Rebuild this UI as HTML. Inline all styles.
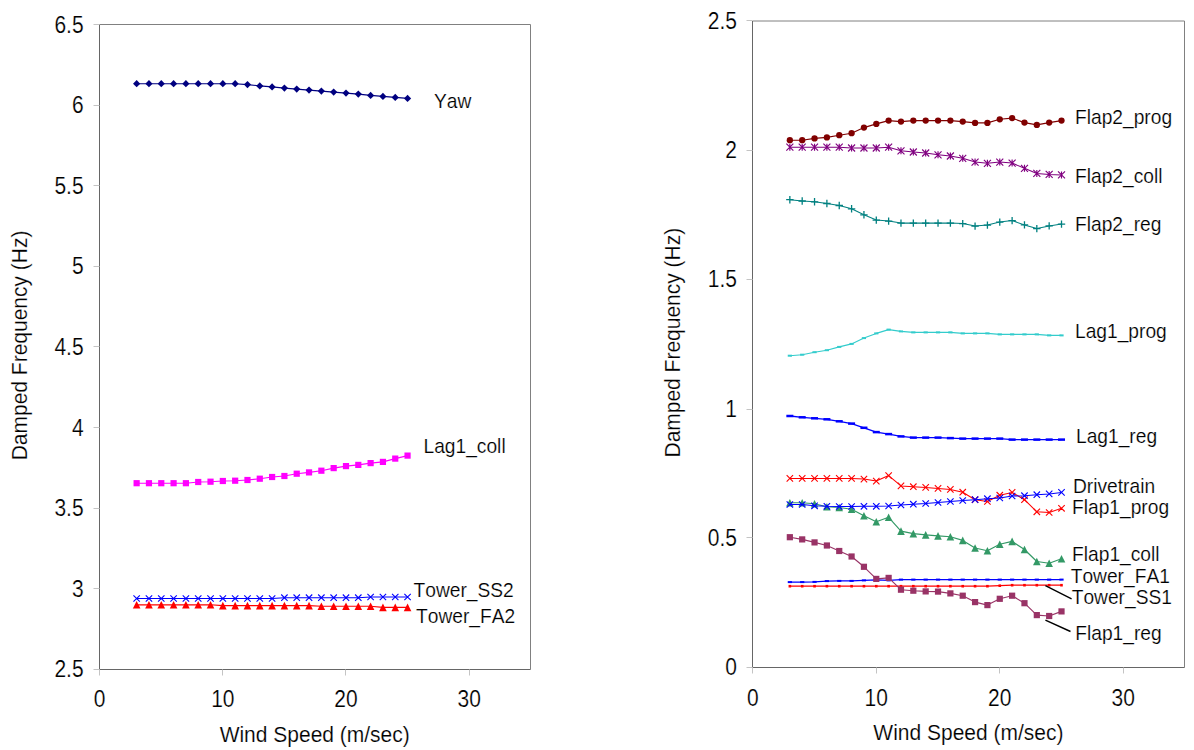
<!DOCTYPE html>
<html lang="en"><head><meta charset="utf-8"><title>Damped Frequency vs Wind Speed</title>
<style>html,body{margin:0;padding:0;background:#fff}svg{display:block}text{fill:#000;font-kerning:none;stroke:#fff;stroke-width:.18px}</style></head><body>
<svg width="1194" height="750" viewBox="0 0 1194 750">
<rect width="1194" height="750" fill="#fff"/>
<path d="M99.5 24.5H530.5V669.5" fill="none" stroke="#808080" stroke-width="1"/>
<path d="M99.5 24.5V669.5H530.5" fill="none" stroke="#666" stroke-width="1"/>
<path d="M99.5 669.5v6" stroke="#c4c4c4" stroke-width="1"/>
<text transform="translate(99.7 707.4) scale(1 1.11)" font-size="21" text-anchor="middle" font-family="Liberation Sans, Arial, sans-serif">0</text>
<path d="M222.5 669.5v6" stroke="#c4c4c4" stroke-width="1"/>
<text transform="translate(222.84 707.4) scale(1 1.11)" font-size="21" text-anchor="middle" font-family="Liberation Sans, Arial, sans-serif">10</text>
<path d="M345.5 669.5v6" stroke="#c4c4c4" stroke-width="1"/>
<text transform="translate(345.99 707.4) scale(1 1.11)" font-size="21" text-anchor="middle" font-family="Liberation Sans, Arial, sans-serif">20</text>
<path d="M469.5 669.5v6" stroke="#c4c4c4" stroke-width="1"/>
<text transform="translate(469.13 707.4) scale(1 1.11)" font-size="21" text-anchor="middle" font-family="Liberation Sans, Arial, sans-serif">30</text>
<path d="M99.5 24.5h-6" stroke="#c4c4c4" stroke-width="1"/>
<text transform="translate(83.6 32.6) scale(1 1.11)" font-size="21" text-anchor="end" font-family="Liberation Sans, Arial, sans-serif">6.5</text>
<path d="M99.5 105.5h-6" stroke="#c4c4c4" stroke-width="1"/>
<text transform="translate(83.6 113.19) scale(1 1.11)" font-size="21" text-anchor="end" font-family="Liberation Sans, Arial, sans-serif">6</text>
<path d="M99.5 185.5h-6" stroke="#c4c4c4" stroke-width="1"/>
<text transform="translate(83.6 193.77) scale(1 1.11)" font-size="21" text-anchor="end" font-family="Liberation Sans, Arial, sans-serif">5.5</text>
<path d="M99.5 266.5h-6" stroke="#c4c4c4" stroke-width="1"/>
<text transform="translate(83.6 274.36) scale(1 1.11)" font-size="21" text-anchor="end" font-family="Liberation Sans, Arial, sans-serif">5</text>
<path d="M99.5 346.5h-6" stroke="#c4c4c4" stroke-width="1"/>
<text transform="translate(83.6 354.95) scale(1 1.11)" font-size="21" text-anchor="end" font-family="Liberation Sans, Arial, sans-serif">4.5</text>
<path d="M99.5 427.5h-6" stroke="#c4c4c4" stroke-width="1"/>
<text transform="translate(83.6 435.54) scale(1 1.11)" font-size="21" text-anchor="end" font-family="Liberation Sans, Arial, sans-serif">4</text>
<path d="M99.5 508.5h-6" stroke="#c4c4c4" stroke-width="1"/>
<text transform="translate(83.6 516.12) scale(1 1.11)" font-size="21" text-anchor="end" font-family="Liberation Sans, Arial, sans-serif">3.5</text>
<path d="M99.5 588.5h-6" stroke="#c4c4c4" stroke-width="1"/>
<text transform="translate(83.6 596.71) scale(1 1.11)" font-size="21" text-anchor="end" font-family="Liberation Sans, Arial, sans-serif">3</text>
<path d="M99.5 669.5h-6" stroke="#c4c4c4" stroke-width="1"/>
<text transform="translate(83.6 677.3) scale(1 1.11)" font-size="21" text-anchor="end" font-family="Liberation Sans, Arial, sans-serif">2.5</text>
<text transform="translate(314.7 741.8) scale(1 1.05)" font-size="21" text-anchor="middle" font-family="Liberation Sans, Arial, sans-serif">Wind Speed (m/sec)</text>
<text transform="translate(27 345.45) rotate(-90) scale(1 1.05)" font-size="21" text-anchor="middle" font-family="Liberation Sans, Arial, sans-serif">Damped Frequency (Hz)</text>
<polyline points="136.64,83.7 148.96,83.7 161.27,83.7 173.59,83.7 185.9,83.7 198.21,83.7 210.53,83.7 222.84,83.7 235.16,83.7 247.47,84.6 259.79,85.9 272.1,86.9 284.41,88.1 296.73,89.1 309.04,90.1 321.36,91.1 333.67,92.1 345.99,93.1 358.3,94.1 370.61,95.4 382.93,96.4 395.24,97.4 407.56,98.4" fill="none" stroke="#000080" stroke-width="1.15" stroke-linejoin="round"/>
<path d="M136.64 80.1L140.24 83.7L136.64 87.3L133.04 83.7Z" fill="#000080"/>
<path d="M148.96 80.1L152.56 83.7L148.96 87.3L145.36 83.7Z" fill="#000080"/>
<path d="M161.27 80.1L164.87 83.7L161.27 87.3L157.67 83.7Z" fill="#000080"/>
<path d="M173.59 80.1L177.19 83.7L173.59 87.3L169.99 83.7Z" fill="#000080"/>
<path d="M185.9 80.1L189.5 83.7L185.9 87.3L182.3 83.7Z" fill="#000080"/>
<path d="M198.21 80.1L201.81 83.7L198.21 87.3L194.61 83.7Z" fill="#000080"/>
<path d="M210.53 80.1L214.13 83.7L210.53 87.3L206.93 83.7Z" fill="#000080"/>
<path d="M222.84 80.1L226.44 83.7L222.84 87.3L219.24 83.7Z" fill="#000080"/>
<path d="M235.16 80.1L238.76 83.7L235.16 87.3L231.56 83.7Z" fill="#000080"/>
<path d="M247.47 81L251.07 84.6L247.47 88.2L243.87 84.6Z" fill="#000080"/>
<path d="M259.79 82.3L263.39 85.9L259.79 89.5L256.19 85.9Z" fill="#000080"/>
<path d="M272.1 83.3L275.7 86.9L272.1 90.5L268.5 86.9Z" fill="#000080"/>
<path d="M284.41 84.5L288.01 88.1L284.41 91.7L280.81 88.1Z" fill="#000080"/>
<path d="M296.73 85.5L300.33 89.1L296.73 92.7L293.13 89.1Z" fill="#000080"/>
<path d="M309.04 86.5L312.64 90.1L309.04 93.7L305.44 90.1Z" fill="#000080"/>
<path d="M321.36 87.5L324.96 91.1L321.36 94.7L317.76 91.1Z" fill="#000080"/>
<path d="M333.67 88.5L337.27 92.1L333.67 95.7L330.07 92.1Z" fill="#000080"/>
<path d="M345.99 89.5L349.59 93.1L345.99 96.7L342.39 93.1Z" fill="#000080"/>
<path d="M358.3 90.5L361.9 94.1L358.3 97.7L354.7 94.1Z" fill="#000080"/>
<path d="M370.61 91.8L374.21 95.4L370.61 99L367.01 95.4Z" fill="#000080"/>
<path d="M382.93 92.8L386.53 96.4L382.93 100L379.33 96.4Z" fill="#000080"/>
<path d="M395.24 93.8L398.84 97.4L395.24 101L391.64 97.4Z" fill="#000080"/>
<path d="M407.56 94.8L411.16 98.4L407.56 102L403.96 98.4Z" fill="#000080"/>
<polyline points="136.64,483.2 148.96,483.2 161.27,483.2 173.59,483.2 185.9,483.2 198.21,482 210.53,481.7 222.84,481 235.16,480.7 247.47,480 259.79,478.7 272.1,477 284.41,476 296.73,473.7 309.04,472.4 321.36,470.7 333.67,468.1 345.99,466.1 358.3,464.9 370.61,463.1 382.93,461.9 395.24,458.6 407.56,455.6" fill="none" stroke="#ff00ff" stroke-width="1.15" stroke-linejoin="round"/>
<rect x="133.54" y="480.1" width="6.2" height="6.2" fill="#ff00ff"/>
<rect x="145.86" y="480.1" width="6.2" height="6.2" fill="#ff00ff"/>
<rect x="158.17" y="480.1" width="6.2" height="6.2" fill="#ff00ff"/>
<rect x="170.49" y="480.1" width="6.2" height="6.2" fill="#ff00ff"/>
<rect x="182.8" y="480.1" width="6.2" height="6.2" fill="#ff00ff"/>
<rect x="195.11" y="478.9" width="6.2" height="6.2" fill="#ff00ff"/>
<rect x="207.43" y="478.6" width="6.2" height="6.2" fill="#ff00ff"/>
<rect x="219.74" y="477.9" width="6.2" height="6.2" fill="#ff00ff"/>
<rect x="232.06" y="477.6" width="6.2" height="6.2" fill="#ff00ff"/>
<rect x="244.37" y="476.9" width="6.2" height="6.2" fill="#ff00ff"/>
<rect x="256.69" y="475.6" width="6.2" height="6.2" fill="#ff00ff"/>
<rect x="269" y="473.9" width="6.2" height="6.2" fill="#ff00ff"/>
<rect x="281.31" y="472.9" width="6.2" height="6.2" fill="#ff00ff"/>
<rect x="293.63" y="470.6" width="6.2" height="6.2" fill="#ff00ff"/>
<rect x="305.94" y="469.3" width="6.2" height="6.2" fill="#ff00ff"/>
<rect x="318.26" y="467.6" width="6.2" height="6.2" fill="#ff00ff"/>
<rect x="330.57" y="465" width="6.2" height="6.2" fill="#ff00ff"/>
<rect x="342.89" y="463" width="6.2" height="6.2" fill="#ff00ff"/>
<rect x="355.2" y="461.8" width="6.2" height="6.2" fill="#ff00ff"/>
<rect x="367.51" y="460" width="6.2" height="6.2" fill="#ff00ff"/>
<rect x="379.83" y="458.8" width="6.2" height="6.2" fill="#ff00ff"/>
<rect x="392.14" y="455.5" width="6.2" height="6.2" fill="#ff00ff"/>
<rect x="404.46" y="452.5" width="6.2" height="6.2" fill="#ff00ff"/>
<polyline points="136.64,604.8 148.96,604.8 161.27,604.8 173.59,604.8 185.9,604.8 198.21,604.8 210.53,604.8 222.84,605.6 235.16,605.6 247.47,605.6 259.79,605.6 272.1,605.6 284.41,605.6 296.73,605.6 309.04,605.6 321.36,606.2 333.67,606.2 345.99,606.2 358.3,606.2 370.61,606.2 382.93,607.4 395.24,607.4 407.56,607.4" fill="none" stroke="#ff0000" stroke-width="1.15" stroke-linejoin="round"/>
<path d="M136.64 601L140.44 608.6L132.84 608.6Z" fill="#ff0000"/>
<path d="M148.96 601L152.76 608.6L145.16 608.6Z" fill="#ff0000"/>
<path d="M161.27 601L165.07 608.6L157.47 608.6Z" fill="#ff0000"/>
<path d="M173.59 601L177.39 608.6L169.79 608.6Z" fill="#ff0000"/>
<path d="M185.9 601L189.7 608.6L182.1 608.6Z" fill="#ff0000"/>
<path d="M198.21 601L202.01 608.6L194.41 608.6Z" fill="#ff0000"/>
<path d="M210.53 601L214.33 608.6L206.73 608.6Z" fill="#ff0000"/>
<path d="M222.84 601.8L226.64 609.4L219.04 609.4Z" fill="#ff0000"/>
<path d="M235.16 601.8L238.96 609.4L231.36 609.4Z" fill="#ff0000"/>
<path d="M247.47 601.8L251.27 609.4L243.67 609.4Z" fill="#ff0000"/>
<path d="M259.79 601.8L263.59 609.4L255.99 609.4Z" fill="#ff0000"/>
<path d="M272.1 601.8L275.9 609.4L268.3 609.4Z" fill="#ff0000"/>
<path d="M284.41 601.8L288.21 609.4L280.61 609.4Z" fill="#ff0000"/>
<path d="M296.73 601.8L300.53 609.4L292.93 609.4Z" fill="#ff0000"/>
<path d="M309.04 601.8L312.84 609.4L305.24 609.4Z" fill="#ff0000"/>
<path d="M321.36 602.4L325.16 610L317.56 610Z" fill="#ff0000"/>
<path d="M333.67 602.4L337.47 610L329.87 610Z" fill="#ff0000"/>
<path d="M345.99 602.4L349.79 610L342.19 610Z" fill="#ff0000"/>
<path d="M358.3 602.4L362.1 610L354.5 610Z" fill="#ff0000"/>
<path d="M370.61 602.4L374.41 610L366.81 610Z" fill="#ff0000"/>
<path d="M382.93 603.6L386.73 611.2L379.13 611.2Z" fill="#ff0000"/>
<path d="M395.24 603.6L399.04 611.2L391.44 611.2Z" fill="#ff0000"/>
<path d="M407.56 603.6L411.36 611.2L403.76 611.2Z" fill="#ff0000"/>
<polyline points="136.64,598.5 148.96,598.5 161.27,598.5 173.59,598.5 185.9,598.5 198.21,598.5 210.53,598.5 222.84,598.5 235.16,598.5 247.47,598.5 259.79,598.5 272.1,598.5 284.41,597.7 296.73,597.7 309.04,597.7 321.36,597.7 333.67,597.7 345.99,597.7 358.3,597.7 370.61,597 382.93,597 395.24,597 407.56,597" fill="none" stroke="#0000ff" stroke-width="1.15" stroke-linejoin="round"/>
<path d="M133.44 595.3L139.84 601.7M133.44 601.7L139.84 595.3" stroke="#0000ff" stroke-width="1.1" fill="none"/>
<path d="M145.76 595.3L152.16 601.7M145.76 601.7L152.16 595.3" stroke="#0000ff" stroke-width="1.1" fill="none"/>
<path d="M158.07 595.3L164.47 601.7M158.07 601.7L164.47 595.3" stroke="#0000ff" stroke-width="1.1" fill="none"/>
<path d="M170.39 595.3L176.79 601.7M170.39 601.7L176.79 595.3" stroke="#0000ff" stroke-width="1.1" fill="none"/>
<path d="M182.7 595.3L189.1 601.7M182.7 601.7L189.1 595.3" stroke="#0000ff" stroke-width="1.1" fill="none"/>
<path d="M195.01 595.3L201.41 601.7M195.01 601.7L201.41 595.3" stroke="#0000ff" stroke-width="1.1" fill="none"/>
<path d="M207.33 595.3L213.73 601.7M207.33 601.7L213.73 595.3" stroke="#0000ff" stroke-width="1.1" fill="none"/>
<path d="M219.64 595.3L226.04 601.7M219.64 601.7L226.04 595.3" stroke="#0000ff" stroke-width="1.1" fill="none"/>
<path d="M231.96 595.3L238.36 601.7M231.96 601.7L238.36 595.3" stroke="#0000ff" stroke-width="1.1" fill="none"/>
<path d="M244.27 595.3L250.67 601.7M244.27 601.7L250.67 595.3" stroke="#0000ff" stroke-width="1.1" fill="none"/>
<path d="M256.59 595.3L262.99 601.7M256.59 601.7L262.99 595.3" stroke="#0000ff" stroke-width="1.1" fill="none"/>
<path d="M268.9 595.3L275.3 601.7M268.9 601.7L275.3 595.3" stroke="#0000ff" stroke-width="1.1" fill="none"/>
<path d="M281.21 594.5L287.61 600.9M281.21 600.9L287.61 594.5" stroke="#0000ff" stroke-width="1.1" fill="none"/>
<path d="M293.53 594.5L299.93 600.9M293.53 600.9L299.93 594.5" stroke="#0000ff" stroke-width="1.1" fill="none"/>
<path d="M305.84 594.5L312.24 600.9M305.84 600.9L312.24 594.5" stroke="#0000ff" stroke-width="1.1" fill="none"/>
<path d="M318.16 594.5L324.56 600.9M318.16 600.9L324.56 594.5" stroke="#0000ff" stroke-width="1.1" fill="none"/>
<path d="M330.47 594.5L336.87 600.9M330.47 600.9L336.87 594.5" stroke="#0000ff" stroke-width="1.1" fill="none"/>
<path d="M342.79 594.5L349.19 600.9M342.79 600.9L349.19 594.5" stroke="#0000ff" stroke-width="1.1" fill="none"/>
<path d="M355.1 594.5L361.5 600.9M355.1 600.9L361.5 594.5" stroke="#0000ff" stroke-width="1.1" fill="none"/>
<path d="M367.41 593.8L373.81 600.2M367.41 600.2L373.81 593.8" stroke="#0000ff" stroke-width="1.1" fill="none"/>
<path d="M379.73 593.8L386.13 600.2M379.73 600.2L386.13 593.8" stroke="#0000ff" stroke-width="1.1" fill="none"/>
<path d="M392.04 593.8L398.44 600.2M392.04 600.2L398.44 593.8" stroke="#0000ff" stroke-width="1.1" fill="none"/>
<path d="M404.36 593.8L410.76 600.2M404.36 600.2L410.76 593.8" stroke="#0000ff" stroke-width="1.1" fill="none"/>
<text transform="translate(434 108) scale(1 1.05)" font-size="19.2" font-family="Liberation Sans, Arial, sans-serif">Yaw</text>
<text transform="translate(423.5 453) scale(1 1.05)" font-size="19.2" font-family="Liberation Sans, Arial, sans-serif">Lag1_coll</text>
<text transform="translate(413.5 597) scale(1 1.05)" font-size="19.2" font-family="Liberation Sans, Arial, sans-serif">Tower_SS2</text>
<text transform="translate(416 623.2) scale(1 1.05)" font-size="19.2" font-family="Liberation Sans, Arial, sans-serif">Tower_FA2</text>
<path d="M752.5 21H1184.5V667.5" fill="none" stroke="#808080" stroke-width="1"/>
<path d="M752.5 21V667.5H1184.5" fill="none" stroke="#666" stroke-width="1"/>
<path d="M752.5 667.5v6" stroke="#c4c4c4" stroke-width="1"/>
<text transform="translate(752.8 705.5) scale(1 1.11)" font-size="21" text-anchor="middle" font-family="Liberation Sans, Arial, sans-serif">0</text>
<path d="M876.5 667.5v6" stroke="#c4c4c4" stroke-width="1"/>
<text transform="translate(876.29 705.5) scale(1 1.11)" font-size="21" text-anchor="middle" font-family="Liberation Sans, Arial, sans-serif">10</text>
<path d="M999.5 667.5v6" stroke="#c4c4c4" stroke-width="1"/>
<text transform="translate(999.77 705.5) scale(1 1.11)" font-size="21" text-anchor="middle" font-family="Liberation Sans, Arial, sans-serif">20</text>
<path d="M1123.5 667.5v6" stroke="#c4c4c4" stroke-width="1"/>
<text transform="translate(1123.26 705.5) scale(1 1.11)" font-size="21" text-anchor="middle" font-family="Liberation Sans, Arial, sans-serif">30</text>
<path d="M752.5 20.5h-6" stroke="#c4c4c4" stroke-width="1"/>
<text transform="translate(737 28.9) scale(1 1.11)" font-size="21" text-anchor="end" font-family="Liberation Sans, Arial, sans-serif">2.5</text>
<path d="M752.5 150.5h-6" stroke="#c4c4c4" stroke-width="1"/>
<text transform="translate(737 158.4) scale(1 1.11)" font-size="21" text-anchor="end" font-family="Liberation Sans, Arial, sans-serif">2</text>
<path d="M752.5 279.5h-6" stroke="#c4c4c4" stroke-width="1"/>
<text transform="translate(737 287.3) scale(1 1.11)" font-size="21" text-anchor="end" font-family="Liberation Sans, Arial, sans-serif">1.5</text>
<path d="M752.5 409.5h-6" stroke="#c4c4c4" stroke-width="1"/>
<text transform="translate(737 417.3) scale(1 1.11)" font-size="21" text-anchor="end" font-family="Liberation Sans, Arial, sans-serif">1</text>
<path d="M752.5 537.5h-6" stroke="#c4c4c4" stroke-width="1"/>
<text transform="translate(737 545.8) scale(1 1.11)" font-size="21" text-anchor="end" font-family="Liberation Sans, Arial, sans-serif">0.5</text>
<path d="M752.5 667.5h-6" stroke="#c4c4c4" stroke-width="1"/>
<text transform="translate(737 675.4) scale(1 1.11)" font-size="21" text-anchor="end" font-family="Liberation Sans, Arial, sans-serif">0</text>
<text transform="translate(968.4 740) scale(1 1.05)" font-size="21" text-anchor="middle" font-family="Liberation Sans, Arial, sans-serif">Wind Speed (m/sec)</text>
<text transform="translate(680 342.65) rotate(-90) scale(1 1.05)" font-size="21" text-anchor="middle" font-family="Liberation Sans, Arial, sans-serif">Damped Frequency (Hz)</text>
<polyline points="789.85,140.2 802.19,140.2 814.54,138.4 826.89,137.4 839.24,135.2 851.59,133.2 863.94,127.6 876.29,123.9 888.63,120.6 900.98,121.6 913.33,120.6 925.68,120.6 938.03,120.6 950.38,120.6 962.73,121.6 975.07,122.9 987.42,122.9 999.77,119.3 1012.12,118.1 1024.47,122.6 1036.82,124.9 1049.17,122.6 1061.51,120.6" fill="none" stroke="#800000" stroke-width="1.15" stroke-linejoin="round"/>
<circle cx="789.85" cy="140.2" r="3.15" fill="#800000"/>
<circle cx="802.19" cy="140.2" r="3.15" fill="#800000"/>
<circle cx="814.54" cy="138.4" r="3.15" fill="#800000"/>
<circle cx="826.89" cy="137.4" r="3.15" fill="#800000"/>
<circle cx="839.24" cy="135.2" r="3.15" fill="#800000"/>
<circle cx="851.59" cy="133.2" r="3.15" fill="#800000"/>
<circle cx="863.94" cy="127.6" r="3.15" fill="#800000"/>
<circle cx="876.29" cy="123.9" r="3.15" fill="#800000"/>
<circle cx="888.63" cy="120.6" r="3.15" fill="#800000"/>
<circle cx="900.98" cy="121.6" r="3.15" fill="#800000"/>
<circle cx="913.33" cy="120.6" r="3.15" fill="#800000"/>
<circle cx="925.68" cy="120.6" r="3.15" fill="#800000"/>
<circle cx="938.03" cy="120.6" r="3.15" fill="#800000"/>
<circle cx="950.38" cy="120.6" r="3.15" fill="#800000"/>
<circle cx="962.73" cy="121.6" r="3.15" fill="#800000"/>
<circle cx="975.07" cy="122.9" r="3.15" fill="#800000"/>
<circle cx="987.42" cy="122.9" r="3.15" fill="#800000"/>
<circle cx="999.77" cy="119.3" r="3.15" fill="#800000"/>
<circle cx="1012.12" cy="118.1" r="3.15" fill="#800000"/>
<circle cx="1024.47" cy="122.6" r="3.15" fill="#800000"/>
<circle cx="1036.82" cy="124.9" r="3.15" fill="#800000"/>
<circle cx="1049.17" cy="122.6" r="3.15" fill="#800000"/>
<circle cx="1061.51" cy="120.6" r="3.15" fill="#800000"/>
<polyline points="789.85,147.2 802.19,147.2 814.54,147.2 826.89,147.2 839.24,147.2 851.59,148 863.94,148 876.29,148 888.63,147.2 900.98,150.8 913.33,152 925.68,153 938.03,154.8 950.38,156 962.73,158.3 975.07,162.1 987.42,163.3 999.77,162.1 1012.12,163.1 1024.47,168.3 1036.82,173.4 1049.17,174.4 1061.51,174.9" fill="none" stroke="#800080" stroke-width="1.05" stroke-linejoin="round"/>
<path d="M786.35 143.7L793.35 150.7M786.35 150.7L793.35 143.7M789.85 143.7L789.85 150.7" stroke="#800080" stroke-width="1.15" fill="none"/>
<path d="M798.69 143.7L805.69 150.7M798.69 150.7L805.69 143.7M802.19 143.7L802.19 150.7" stroke="#800080" stroke-width="1.15" fill="none"/>
<path d="M811.04 143.7L818.04 150.7M811.04 150.7L818.04 143.7M814.54 143.7L814.54 150.7" stroke="#800080" stroke-width="1.15" fill="none"/>
<path d="M823.39 143.7L830.39 150.7M823.39 150.7L830.39 143.7M826.89 143.7L826.89 150.7" stroke="#800080" stroke-width="1.15" fill="none"/>
<path d="M835.74 143.7L842.74 150.7M835.74 150.7L842.74 143.7M839.24 143.7L839.24 150.7" stroke="#800080" stroke-width="1.15" fill="none"/>
<path d="M848.09 144.5L855.09 151.5M848.09 151.5L855.09 144.5M851.59 144.5L851.59 151.5" stroke="#800080" stroke-width="1.15" fill="none"/>
<path d="M860.44 144.5L867.44 151.5M860.44 151.5L867.44 144.5M863.94 144.5L863.94 151.5" stroke="#800080" stroke-width="1.15" fill="none"/>
<path d="M872.79 144.5L879.79 151.5M872.79 151.5L879.79 144.5M876.29 144.5L876.29 151.5" stroke="#800080" stroke-width="1.15" fill="none"/>
<path d="M885.13 143.7L892.13 150.7M885.13 150.7L892.13 143.7M888.63 143.7L888.63 150.7" stroke="#800080" stroke-width="1.15" fill="none"/>
<path d="M897.48 147.3L904.48 154.3M897.48 154.3L904.48 147.3M900.98 147.3L900.98 154.3" stroke="#800080" stroke-width="1.15" fill="none"/>
<path d="M909.83 148.5L916.83 155.5M909.83 155.5L916.83 148.5M913.33 148.5L913.33 155.5" stroke="#800080" stroke-width="1.15" fill="none"/>
<path d="M922.18 149.5L929.18 156.5M922.18 156.5L929.18 149.5M925.68 149.5L925.68 156.5" stroke="#800080" stroke-width="1.15" fill="none"/>
<path d="M934.53 151.3L941.53 158.3M934.53 158.3L941.53 151.3M938.03 151.3L938.03 158.3" stroke="#800080" stroke-width="1.15" fill="none"/>
<path d="M946.88 152.5L953.88 159.5M946.88 159.5L953.88 152.5M950.38 152.5L950.38 159.5" stroke="#800080" stroke-width="1.15" fill="none"/>
<path d="M959.23 154.8L966.23 161.8M959.23 161.8L966.23 154.8M962.73 154.8L962.73 161.8" stroke="#800080" stroke-width="1.15" fill="none"/>
<path d="M971.57 158.6L978.57 165.6M971.57 165.6L978.57 158.6M975.07 158.6L975.07 165.6" stroke="#800080" stroke-width="1.15" fill="none"/>
<path d="M983.92 159.8L990.92 166.8M983.92 166.8L990.92 159.8M987.42 159.8L987.42 166.8" stroke="#800080" stroke-width="1.15" fill="none"/>
<path d="M996.27 158.6L1003.27 165.6M996.27 165.6L1003.27 158.6M999.77 158.6L999.77 165.6" stroke="#800080" stroke-width="1.15" fill="none"/>
<path d="M1008.62 159.6L1015.62 166.6M1008.62 166.6L1015.62 159.6M1012.12 159.6L1012.12 166.6" stroke="#800080" stroke-width="1.15" fill="none"/>
<path d="M1020.97 164.8L1027.97 171.8M1020.97 171.8L1027.97 164.8M1024.47 164.8L1024.47 171.8" stroke="#800080" stroke-width="1.15" fill="none"/>
<path d="M1033.32 169.9L1040.32 176.9M1033.32 176.9L1040.32 169.9M1036.82 169.9L1036.82 176.9" stroke="#800080" stroke-width="1.15" fill="none"/>
<path d="M1045.67 170.9L1052.67 177.9M1045.67 177.9L1052.67 170.9M1049.17 170.9L1049.17 177.9" stroke="#800080" stroke-width="1.15" fill="none"/>
<path d="M1058.01 171.4L1065.01 178.4M1058.01 178.4L1065.01 171.4M1061.51 171.4L1061.51 178.4" stroke="#800080" stroke-width="1.15" fill="none"/>
<polyline points="789.85,199.7 802.19,201 814.54,201.8 826.89,203.5 839.24,205.5 851.59,208.8 863.94,214.8 876.29,220.1 888.63,221.1 900.98,223.1 913.33,223.1 925.68,223.1 938.03,223.1 950.38,223.1 962.73,223.6 975.07,226.1 987.42,225.1 999.77,222.1 1012.12,220.6 1024.47,224.9 1036.82,228.6 1049.17,225.9 1061.51,224.1" fill="none" stroke="#008080" stroke-width="1.05" stroke-linejoin="round"/>
<path d="M786.15 199.7L793.55 199.7M789.85 196L789.85 203.4" stroke="#008080" stroke-width="1.3" fill="none"/>
<path d="M798.49 201L805.89 201M802.19 197.3L802.19 204.7" stroke="#008080" stroke-width="1.3" fill="none"/>
<path d="M810.84 201.8L818.24 201.8M814.54 198.1L814.54 205.5" stroke="#008080" stroke-width="1.3" fill="none"/>
<path d="M823.19 203.5L830.59 203.5M826.89 199.8L826.89 207.2" stroke="#008080" stroke-width="1.3" fill="none"/>
<path d="M835.54 205.5L842.94 205.5M839.24 201.8L839.24 209.2" stroke="#008080" stroke-width="1.3" fill="none"/>
<path d="M847.89 208.8L855.29 208.8M851.59 205.1L851.59 212.5" stroke="#008080" stroke-width="1.3" fill="none"/>
<path d="M860.24 214.8L867.64 214.8M863.94 211.1L863.94 218.5" stroke="#008080" stroke-width="1.3" fill="none"/>
<path d="M872.59 220.1L879.99 220.1M876.29 216.4L876.29 223.8" stroke="#008080" stroke-width="1.3" fill="none"/>
<path d="M884.93 221.1L892.33 221.1M888.63 217.4L888.63 224.8" stroke="#008080" stroke-width="1.3" fill="none"/>
<path d="M897.28 223.1L904.68 223.1M900.98 219.4L900.98 226.8" stroke="#008080" stroke-width="1.3" fill="none"/>
<path d="M909.63 223.1L917.03 223.1M913.33 219.4L913.33 226.8" stroke="#008080" stroke-width="1.3" fill="none"/>
<path d="M921.98 223.1L929.38 223.1M925.68 219.4L925.68 226.8" stroke="#008080" stroke-width="1.3" fill="none"/>
<path d="M934.33 223.1L941.73 223.1M938.03 219.4L938.03 226.8" stroke="#008080" stroke-width="1.3" fill="none"/>
<path d="M946.68 223.1L954.08 223.1M950.38 219.4L950.38 226.8" stroke="#008080" stroke-width="1.3" fill="none"/>
<path d="M959.03 223.6L966.43 223.6M962.73 219.9L962.73 227.3" stroke="#008080" stroke-width="1.3" fill="none"/>
<path d="M971.37 226.1L978.77 226.1M975.07 222.4L975.07 229.8" stroke="#008080" stroke-width="1.3" fill="none"/>
<path d="M983.72 225.1L991.12 225.1M987.42 221.4L987.42 228.8" stroke="#008080" stroke-width="1.3" fill="none"/>
<path d="M996.07 222.1L1003.47 222.1M999.77 218.4L999.77 225.8" stroke="#008080" stroke-width="1.3" fill="none"/>
<path d="M1008.42 220.6L1015.82 220.6M1012.12 216.9L1012.12 224.3" stroke="#008080" stroke-width="1.3" fill="none"/>
<path d="M1020.77 224.9L1028.17 224.9M1024.47 221.2L1024.47 228.6" stroke="#008080" stroke-width="1.3" fill="none"/>
<path d="M1033.12 228.6L1040.52 228.6M1036.82 224.9L1036.82 232.3" stroke="#008080" stroke-width="1.3" fill="none"/>
<path d="M1045.47 225.9L1052.87 225.9M1049.17 222.2L1049.17 229.6" stroke="#008080" stroke-width="1.3" fill="none"/>
<path d="M1057.81 224.1L1065.21 224.1M1061.51 220.4L1061.51 227.8" stroke="#008080" stroke-width="1.3" fill="none"/>
<polyline points="789.85,355.7 802.19,354.7 814.54,352.2 826.89,350.2 839.24,346.9 851.59,343.9 863.94,338.1 876.29,333.4 888.63,329.6 900.98,331.4 913.33,332.4 925.68,332.4 938.03,332.4 950.38,332.4 962.73,333.4 975.07,333.4 987.42,333.4 999.77,334.4 1012.12,334.4 1024.47,334.4 1036.82,334.4 1049.17,335.4 1061.51,335.4" fill="none" stroke="#33cccc" stroke-width="1.1" stroke-linejoin="round"/>
<rect x="787.75" y="354.7" width="4.2" height="2" fill="#33cccc"/>
<rect x="800.09" y="353.7" width="4.2" height="2" fill="#33cccc"/>
<rect x="812.44" y="351.2" width="4.2" height="2" fill="#33cccc"/>
<rect x="824.79" y="349.2" width="4.2" height="2" fill="#33cccc"/>
<rect x="837.14" y="345.9" width="4.2" height="2" fill="#33cccc"/>
<rect x="849.49" y="342.9" width="4.2" height="2" fill="#33cccc"/>
<rect x="861.84" y="337.1" width="4.2" height="2" fill="#33cccc"/>
<rect x="874.19" y="332.4" width="4.2" height="2" fill="#33cccc"/>
<rect x="886.53" y="328.6" width="4.2" height="2" fill="#33cccc"/>
<rect x="898.88" y="330.4" width="4.2" height="2" fill="#33cccc"/>
<rect x="911.23" y="331.4" width="4.2" height="2" fill="#33cccc"/>
<rect x="923.58" y="331.4" width="4.2" height="2" fill="#33cccc"/>
<rect x="935.93" y="331.4" width="4.2" height="2" fill="#33cccc"/>
<rect x="948.28" y="331.4" width="4.2" height="2" fill="#33cccc"/>
<rect x="960.63" y="332.4" width="4.2" height="2" fill="#33cccc"/>
<rect x="972.97" y="332.4" width="4.2" height="2" fill="#33cccc"/>
<rect x="985.32" y="332.4" width="4.2" height="2" fill="#33cccc"/>
<rect x="997.67" y="333.4" width="4.2" height="2" fill="#33cccc"/>
<rect x="1010.02" y="333.4" width="4.2" height="2" fill="#33cccc"/>
<rect x="1022.37" y="333.4" width="4.2" height="2" fill="#33cccc"/>
<rect x="1034.72" y="333.4" width="4.2" height="2" fill="#33cccc"/>
<rect x="1047.07" y="334.4" width="4.2" height="2" fill="#33cccc"/>
<rect x="1059.41" y="334.4" width="4.2" height="2" fill="#33cccc"/>
<polyline points="789.85,416 802.19,417.3 814.54,418.3 826.89,419.3 839.24,421.3 851.59,423.6 863.94,427.8 876.29,432.1 888.63,434.1 900.98,436.4 913.33,437.6 925.68,437.6 938.03,437.6 950.38,438.1 962.73,438.6 975.07,438.6 987.42,438.6 999.77,438.6 1012.12,439.6 1024.47,439.6 1036.82,439.6 1049.17,439.6 1061.51,439.6" fill="none" stroke="#0000ff" stroke-width="1.3" stroke-linejoin="round"/>
<rect x="786.35" y="414.75" width="7" height="2.5" fill="#0000ff"/>
<rect x="798.69" y="416.05" width="7" height="2.5" fill="#0000ff"/>
<rect x="811.04" y="417.05" width="7" height="2.5" fill="#0000ff"/>
<rect x="823.39" y="418.05" width="7" height="2.5" fill="#0000ff"/>
<rect x="835.74" y="420.05" width="7" height="2.5" fill="#0000ff"/>
<rect x="848.09" y="422.35" width="7" height="2.5" fill="#0000ff"/>
<rect x="860.44" y="426.55" width="7" height="2.5" fill="#0000ff"/>
<rect x="872.79" y="430.85" width="7" height="2.5" fill="#0000ff"/>
<rect x="885.13" y="432.85" width="7" height="2.5" fill="#0000ff"/>
<rect x="897.48" y="435.15" width="7" height="2.5" fill="#0000ff"/>
<rect x="909.83" y="436.35" width="7" height="2.5" fill="#0000ff"/>
<rect x="922.18" y="436.35" width="7" height="2.5" fill="#0000ff"/>
<rect x="934.53" y="436.35" width="7" height="2.5" fill="#0000ff"/>
<rect x="946.88" y="436.85" width="7" height="2.5" fill="#0000ff"/>
<rect x="959.23" y="437.35" width="7" height="2.5" fill="#0000ff"/>
<rect x="971.57" y="437.35" width="7" height="2.5" fill="#0000ff"/>
<rect x="983.92" y="437.35" width="7" height="2.5" fill="#0000ff"/>
<rect x="996.27" y="437.35" width="7" height="2.5" fill="#0000ff"/>
<rect x="1008.62" y="438.35" width="7" height="2.5" fill="#0000ff"/>
<rect x="1020.97" y="438.35" width="7" height="2.5" fill="#0000ff"/>
<rect x="1033.32" y="438.35" width="7" height="2.5" fill="#0000ff"/>
<rect x="1045.67" y="438.35" width="7" height="2.5" fill="#0000ff"/>
<rect x="1058.01" y="438.35" width="7" height="2.5" fill="#0000ff"/>
<polyline points="789.85,502.7 802.19,502.7 814.54,503.7 826.89,506.8 839.24,507.5 851.59,509.3 863.94,515.8 876.29,521.8 888.63,517.3 900.98,531.1 913.33,533.6 925.68,534.9 938.03,535.9 950.38,536.7 962.73,540.4 975.07,548 987.42,550.7 999.77,544.2 1012.12,541.4 1024.47,549.5 1036.82,561.5 1049.17,563.3 1061.51,558.8" fill="none" stroke="#339966" stroke-width="1.15" stroke-linejoin="round"/>
<path d="M789.85 498.9L793.65 506.5L786.05 506.5Z" fill="#339966"/>
<path d="M802.19 498.9L805.99 506.5L798.39 506.5Z" fill="#339966"/>
<path d="M814.54 499.9L818.34 507.5L810.74 507.5Z" fill="#339966"/>
<path d="M826.89 503L830.69 510.6L823.09 510.6Z" fill="#339966"/>
<path d="M839.24 503.7L843.04 511.3L835.44 511.3Z" fill="#339966"/>
<path d="M851.59 505.5L855.39 513.1L847.79 513.1Z" fill="#339966"/>
<path d="M863.94 512L867.74 519.6L860.14 519.6Z" fill="#339966"/>
<path d="M876.29 518L880.09 525.6L872.49 525.6Z" fill="#339966"/>
<path d="M888.63 513.5L892.43 521.1L884.83 521.1Z" fill="#339966"/>
<path d="M900.98 527.3L904.78 534.9L897.18 534.9Z" fill="#339966"/>
<path d="M913.33 529.8L917.13 537.4L909.53 537.4Z" fill="#339966"/>
<path d="M925.68 531.1L929.48 538.7L921.88 538.7Z" fill="#339966"/>
<path d="M938.03 532.1L941.83 539.7L934.23 539.7Z" fill="#339966"/>
<path d="M950.38 532.9L954.18 540.5L946.58 540.5Z" fill="#339966"/>
<path d="M962.73 536.6L966.53 544.2L958.93 544.2Z" fill="#339966"/>
<path d="M975.07 544.2L978.87 551.8L971.27 551.8Z" fill="#339966"/>
<path d="M987.42 546.9L991.22 554.5L983.62 554.5Z" fill="#339966"/>
<path d="M999.77 540.4L1003.57 548L995.97 548Z" fill="#339966"/>
<path d="M1012.12 537.6L1015.92 545.2L1008.32 545.2Z" fill="#339966"/>
<path d="M1024.47 545.7L1028.27 553.3L1020.67 553.3Z" fill="#339966"/>
<path d="M1036.82 557.7L1040.62 565.3L1033.02 565.3Z" fill="#339966"/>
<path d="M1049.17 559.5L1052.97 567.1L1045.37 567.1Z" fill="#339966"/>
<path d="M1061.51 555L1065.31 562.6L1057.71 562.6Z" fill="#339966"/>
<polyline points="789.85,582.1 802.19,582.1 814.54,581.9 826.89,581.1 839.24,580.9 851.59,580.9 863.94,580.4 876.29,579.9 888.63,580.4 900.98,579.6 913.33,579.6 925.68,579.6 938.03,579.6 950.38,579.6 962.73,579.6 975.07,579.6 987.42,579.6 999.77,579.6 1012.12,579.6 1024.47,579.6 1036.82,579.6 1049.17,579.6 1061.51,579.6" fill="none" stroke="#0000ff" stroke-width="1.25" stroke-linejoin="round"/>
<rect x="787.75" y="581.1" width="4.2" height="2" fill="#0000ff"/>
<rect x="800.09" y="581.1" width="4.2" height="2" fill="#0000ff"/>
<rect x="812.44" y="580.9" width="4.2" height="2" fill="#0000ff"/>
<rect x="824.79" y="580.1" width="4.2" height="2" fill="#0000ff"/>
<rect x="837.14" y="579.9" width="4.2" height="2" fill="#0000ff"/>
<rect x="849.49" y="579.9" width="4.2" height="2" fill="#0000ff"/>
<rect x="861.84" y="579.4" width="4.2" height="2" fill="#0000ff"/>
<rect x="874.19" y="578.9" width="4.2" height="2" fill="#0000ff"/>
<rect x="886.53" y="579.4" width="4.2" height="2" fill="#0000ff"/>
<rect x="898.88" y="578.6" width="4.2" height="2" fill="#0000ff"/>
<rect x="911.23" y="578.6" width="4.2" height="2" fill="#0000ff"/>
<rect x="923.58" y="578.6" width="4.2" height="2" fill="#0000ff"/>
<rect x="935.93" y="578.6" width="4.2" height="2" fill="#0000ff"/>
<rect x="948.28" y="578.6" width="4.2" height="2" fill="#0000ff"/>
<rect x="960.63" y="578.6" width="4.2" height="2" fill="#0000ff"/>
<rect x="972.97" y="578.6" width="4.2" height="2" fill="#0000ff"/>
<rect x="985.32" y="578.6" width="4.2" height="2" fill="#0000ff"/>
<rect x="997.67" y="578.6" width="4.2" height="2" fill="#0000ff"/>
<rect x="1010.02" y="578.6" width="4.2" height="2" fill="#0000ff"/>
<rect x="1022.37" y="578.6" width="4.2" height="2" fill="#0000ff"/>
<rect x="1034.72" y="578.6" width="4.2" height="2" fill="#0000ff"/>
<rect x="1047.07" y="578.6" width="4.2" height="2" fill="#0000ff"/>
<rect x="1059.41" y="578.6" width="4.2" height="2" fill="#0000ff"/>
<polyline points="789.85,586.2 802.19,586.2 814.54,586.2 826.89,586.2 839.24,586.2 851.59,586.2 863.94,586.2 876.29,586.2 888.63,586.2 900.98,586.2 913.33,586.2 925.68,586.2 938.03,586.2 950.38,586.2 962.73,586.2 975.07,586.2 987.42,586.2 999.77,585.7 1012.12,585.2 1024.47,585.2 1036.82,585.2 1049.17,585.2 1061.51,585.2" fill="none" stroke="#ff0000" stroke-width="1.25" stroke-linejoin="round"/>
<rect x="788.55" y="584.9" width="2.6" height="2.6" fill="#ff0000"/>
<rect x="800.89" y="584.9" width="2.6" height="2.6" fill="#ff0000"/>
<rect x="813.24" y="584.9" width="2.6" height="2.6" fill="#ff0000"/>
<rect x="825.59" y="584.9" width="2.6" height="2.6" fill="#ff0000"/>
<rect x="837.94" y="584.9" width="2.6" height="2.6" fill="#ff0000"/>
<rect x="850.29" y="584.9" width="2.6" height="2.6" fill="#ff0000"/>
<rect x="862.64" y="584.9" width="2.6" height="2.6" fill="#ff0000"/>
<rect x="874.99" y="584.9" width="2.6" height="2.6" fill="#ff0000"/>
<rect x="887.33" y="584.9" width="2.6" height="2.6" fill="#ff0000"/>
<rect x="899.68" y="584.9" width="2.6" height="2.6" fill="#ff0000"/>
<rect x="912.03" y="584.9" width="2.6" height="2.6" fill="#ff0000"/>
<rect x="924.38" y="584.9" width="2.6" height="2.6" fill="#ff0000"/>
<rect x="936.73" y="584.9" width="2.6" height="2.6" fill="#ff0000"/>
<rect x="949.08" y="584.9" width="2.6" height="2.6" fill="#ff0000"/>
<rect x="961.43" y="584.9" width="2.6" height="2.6" fill="#ff0000"/>
<rect x="973.77" y="584.9" width="2.6" height="2.6" fill="#ff0000"/>
<rect x="986.12" y="584.9" width="2.6" height="2.6" fill="#ff0000"/>
<rect x="998.47" y="584.4" width="2.6" height="2.6" fill="#ff0000"/>
<rect x="1010.82" y="583.9" width="2.6" height="2.6" fill="#ff0000"/>
<rect x="1023.17" y="583.9" width="2.6" height="2.6" fill="#ff0000"/>
<rect x="1035.52" y="583.9" width="2.6" height="2.6" fill="#ff0000"/>
<rect x="1047.87" y="583.9" width="2.6" height="2.6" fill="#ff0000"/>
<rect x="1060.21" y="583.9" width="2.6" height="2.6" fill="#ff0000"/>
<polyline points="789.85,537.2 802.19,539.4 814.54,542.4 826.89,545.5 839.24,551 851.59,556.5 863.94,566.8 876.29,578.9 888.63,577.9 900.98,589.7 913.33,590.7 925.68,591.4 938.03,591.6 950.38,593.4 962.73,595.7 975.07,602.1 987.42,605.1 999.77,598.8 1012.12,595.7 1024.47,603.2 1036.82,615.1 1049.17,616 1061.51,611.4" fill="none" stroke="#993366" stroke-width="1.15" stroke-linejoin="round"/>
<rect x="786.75" y="534.1" width="6.2" height="6.2" fill="#993366"/>
<rect x="799.09" y="536.3" width="6.2" height="6.2" fill="#993366"/>
<rect x="811.44" y="539.3" width="6.2" height="6.2" fill="#993366"/>
<rect x="823.79" y="542.4" width="6.2" height="6.2" fill="#993366"/>
<rect x="836.14" y="547.9" width="6.2" height="6.2" fill="#993366"/>
<rect x="848.49" y="553.4" width="6.2" height="6.2" fill="#993366"/>
<rect x="860.84" y="563.7" width="6.2" height="6.2" fill="#993366"/>
<rect x="873.19" y="575.8" width="6.2" height="6.2" fill="#993366"/>
<rect x="885.53" y="574.8" width="6.2" height="6.2" fill="#993366"/>
<rect x="897.88" y="586.6" width="6.2" height="6.2" fill="#993366"/>
<rect x="910.23" y="587.6" width="6.2" height="6.2" fill="#993366"/>
<rect x="922.58" y="588.3" width="6.2" height="6.2" fill="#993366"/>
<rect x="934.93" y="588.5" width="6.2" height="6.2" fill="#993366"/>
<rect x="947.28" y="590.3" width="6.2" height="6.2" fill="#993366"/>
<rect x="959.63" y="592.6" width="6.2" height="6.2" fill="#993366"/>
<rect x="971.97" y="599" width="6.2" height="6.2" fill="#993366"/>
<rect x="984.32" y="602" width="6.2" height="6.2" fill="#993366"/>
<rect x="996.67" y="595.7" width="6.2" height="6.2" fill="#993366"/>
<rect x="1009.02" y="592.6" width="6.2" height="6.2" fill="#993366"/>
<rect x="1021.37" y="600.1" width="6.2" height="6.2" fill="#993366"/>
<rect x="1033.72" y="612" width="6.2" height="6.2" fill="#993366"/>
<rect x="1046.07" y="612.9" width="6.2" height="6.2" fill="#993366"/>
<rect x="1058.41" y="608.3" width="6.2" height="6.2" fill="#993366"/>
<polyline points="789.85,478.4 802.19,478.4 814.54,478.4 826.89,478.4 839.24,478.4 851.59,478.4 863.94,479.1 876.29,481.1 888.63,475.6 900.98,485.9 913.33,486.7 925.68,487.4 938.03,488.4 950.38,489.4 962.73,492.2 975.07,499.7 987.42,501.5 999.77,495.2 1012.12,492.4 1024.47,499.7 1036.82,511.8 1049.17,512.5 1061.51,508.3" fill="none" stroke="#ff0000" stroke-width="1.05" stroke-linejoin="round"/>
<path d="M786.65 475.2L793.05 481.6M786.65 481.6L793.05 475.2" stroke="#ff0000" stroke-width="1.1" fill="none"/>
<path d="M798.99 475.2L805.39 481.6M798.99 481.6L805.39 475.2" stroke="#ff0000" stroke-width="1.1" fill="none"/>
<path d="M811.34 475.2L817.74 481.6M811.34 481.6L817.74 475.2" stroke="#ff0000" stroke-width="1.1" fill="none"/>
<path d="M823.69 475.2L830.09 481.6M823.69 481.6L830.09 475.2" stroke="#ff0000" stroke-width="1.1" fill="none"/>
<path d="M836.04 475.2L842.44 481.6M836.04 481.6L842.44 475.2" stroke="#ff0000" stroke-width="1.1" fill="none"/>
<path d="M848.39 475.2L854.79 481.6M848.39 481.6L854.79 475.2" stroke="#ff0000" stroke-width="1.1" fill="none"/>
<path d="M860.74 475.9L867.14 482.3M860.74 482.3L867.14 475.9" stroke="#ff0000" stroke-width="1.1" fill="none"/>
<path d="M873.09 477.9L879.49 484.3M873.09 484.3L879.49 477.9" stroke="#ff0000" stroke-width="1.1" fill="none"/>
<path d="M885.43 472.4L891.83 478.8M885.43 478.8L891.83 472.4" stroke="#ff0000" stroke-width="1.1" fill="none"/>
<path d="M897.78 482.7L904.18 489.1M897.78 489.1L904.18 482.7" stroke="#ff0000" stroke-width="1.1" fill="none"/>
<path d="M910.13 483.5L916.53 489.9M910.13 489.9L916.53 483.5" stroke="#ff0000" stroke-width="1.1" fill="none"/>
<path d="M922.48 484.2L928.88 490.6M922.48 490.6L928.88 484.2" stroke="#ff0000" stroke-width="1.1" fill="none"/>
<path d="M934.83 485.2L941.23 491.6M934.83 491.6L941.23 485.2" stroke="#ff0000" stroke-width="1.1" fill="none"/>
<path d="M947.18 486.2L953.58 492.6M947.18 492.6L953.58 486.2" stroke="#ff0000" stroke-width="1.1" fill="none"/>
<path d="M959.53 489L965.93 495.4M959.53 495.4L965.93 489" stroke="#ff0000" stroke-width="1.1" fill="none"/>
<path d="M971.87 496.5L978.27 502.9M971.87 502.9L978.27 496.5" stroke="#ff0000" stroke-width="1.1" fill="none"/>
<path d="M984.22 498.3L990.62 504.7M984.22 504.7L990.62 498.3" stroke="#ff0000" stroke-width="1.1" fill="none"/>
<path d="M996.57 492L1002.97 498.4M996.57 498.4L1002.97 492" stroke="#ff0000" stroke-width="1.1" fill="none"/>
<path d="M1008.92 489.2L1015.32 495.6M1008.92 495.6L1015.32 489.2" stroke="#ff0000" stroke-width="1.1" fill="none"/>
<path d="M1021.27 496.5L1027.67 502.9M1021.27 502.9L1027.67 496.5" stroke="#ff0000" stroke-width="1.1" fill="none"/>
<path d="M1033.62 508.6L1040.02 515M1033.62 515L1040.02 508.6" stroke="#ff0000" stroke-width="1.1" fill="none"/>
<path d="M1045.97 509.3L1052.37 515.7M1045.97 515.7L1052.37 509.3" stroke="#ff0000" stroke-width="1.1" fill="none"/>
<path d="M1058.31 505.1L1064.71 511.5M1058.31 511.5L1064.71 505.1" stroke="#ff0000" stroke-width="1.1" fill="none"/>
<polyline points="789.85,504.5 802.19,504.5 814.54,505.8 826.89,506.3 839.24,506.5 851.59,506.5 863.94,506.3 876.29,506.3 888.63,506 900.98,505 913.33,504.2 925.68,503.5 938.03,502.5 950.38,501.5 962.73,500.5 975.07,499.7 987.42,498.7 999.77,498 1012.12,496 1024.47,495.7 1036.82,494.7 1049.17,493.9 1061.51,492.4" fill="none" stroke="#0000ff" stroke-width="1.05" stroke-linejoin="round"/>
<path d="M786.65 501.3L793.05 507.7M786.65 507.7L793.05 501.3" stroke="#0000ff" stroke-width="1.1" fill="none"/>
<path d="M798.99 501.3L805.39 507.7M798.99 507.7L805.39 501.3" stroke="#0000ff" stroke-width="1.1" fill="none"/>
<path d="M811.34 502.6L817.74 509M811.34 509L817.74 502.6" stroke="#0000ff" stroke-width="1.1" fill="none"/>
<path d="M823.69 503.1L830.09 509.5M823.69 509.5L830.09 503.1" stroke="#0000ff" stroke-width="1.1" fill="none"/>
<path d="M836.04 503.3L842.44 509.7M836.04 509.7L842.44 503.3" stroke="#0000ff" stroke-width="1.1" fill="none"/>
<path d="M848.39 503.3L854.79 509.7M848.39 509.7L854.79 503.3" stroke="#0000ff" stroke-width="1.1" fill="none"/>
<path d="M860.74 503.1L867.14 509.5M860.74 509.5L867.14 503.1" stroke="#0000ff" stroke-width="1.1" fill="none"/>
<path d="M873.09 503.1L879.49 509.5M873.09 509.5L879.49 503.1" stroke="#0000ff" stroke-width="1.1" fill="none"/>
<path d="M885.43 502.8L891.83 509.2M885.43 509.2L891.83 502.8" stroke="#0000ff" stroke-width="1.1" fill="none"/>
<path d="M897.78 501.8L904.18 508.2M897.78 508.2L904.18 501.8" stroke="#0000ff" stroke-width="1.1" fill="none"/>
<path d="M910.13 501L916.53 507.4M910.13 507.4L916.53 501" stroke="#0000ff" stroke-width="1.1" fill="none"/>
<path d="M922.48 500.3L928.88 506.7M922.48 506.7L928.88 500.3" stroke="#0000ff" stroke-width="1.1" fill="none"/>
<path d="M934.83 499.3L941.23 505.7M934.83 505.7L941.23 499.3" stroke="#0000ff" stroke-width="1.1" fill="none"/>
<path d="M947.18 498.3L953.58 504.7M947.18 504.7L953.58 498.3" stroke="#0000ff" stroke-width="1.1" fill="none"/>
<path d="M959.53 497.3L965.93 503.7M959.53 503.7L965.93 497.3" stroke="#0000ff" stroke-width="1.1" fill="none"/>
<path d="M971.87 496.5L978.27 502.9M971.87 502.9L978.27 496.5" stroke="#0000ff" stroke-width="1.1" fill="none"/>
<path d="M984.22 495.5L990.62 501.9M984.22 501.9L990.62 495.5" stroke="#0000ff" stroke-width="1.1" fill="none"/>
<path d="M996.57 494.8L1002.97 501.2M996.57 501.2L1002.97 494.8" stroke="#0000ff" stroke-width="1.1" fill="none"/>
<path d="M1008.92 492.8L1015.32 499.2M1008.92 499.2L1015.32 492.8" stroke="#0000ff" stroke-width="1.1" fill="none"/>
<path d="M1021.27 492.5L1027.67 498.9M1021.27 498.9L1027.67 492.5" stroke="#0000ff" stroke-width="1.1" fill="none"/>
<path d="M1033.62 491.5L1040.02 497.9M1033.62 497.9L1040.02 491.5" stroke="#0000ff" stroke-width="1.1" fill="none"/>
<path d="M1045.97 490.7L1052.37 497.1M1045.97 497.1L1052.37 490.7" stroke="#0000ff" stroke-width="1.1" fill="none"/>
<path d="M1058.31 489.2L1064.71 495.6M1058.31 495.6L1064.71 489.2" stroke="#0000ff" stroke-width="1.1" fill="none"/>
<path d="M1045.4 585.7L1071.6 598.8M1045.4 620.1L1070.5 631.5" stroke="#000" stroke-width="1.4" fill="none"/>
<text transform="translate(1075 124) scale(1 1.05)" font-size="19.2" font-family="Liberation Sans, Arial, sans-serif">Flap2_prog</text>
<text transform="translate(1075 183) scale(1 1.05)" font-size="19.2" font-family="Liberation Sans, Arial, sans-serif">Flap2_coll</text>
<text transform="translate(1075 231) scale(1 1.05)" font-size="19.2" font-family="Liberation Sans, Arial, sans-serif">Flap2_reg</text>
<text transform="translate(1075 337.6) scale(1 1.05)" font-size="19.2" font-family="Liberation Sans, Arial, sans-serif">Lag1_prog</text>
<text transform="translate(1076 443.3) scale(1 1.05)" font-size="19.2" font-family="Liberation Sans, Arial, sans-serif">Lag1_reg</text>
<text transform="translate(1073 492.5) scale(1 1.05)" font-size="19.2" font-family="Liberation Sans, Arial, sans-serif">Drivetrain</text>
<text transform="translate(1072 513.5) scale(1 1.05)" font-size="19.2" font-family="Liberation Sans, Arial, sans-serif">Flap1_prog</text>
<text transform="translate(1072.1 560.7) scale(1 1.05)" font-size="19.2" font-family="Liberation Sans, Arial, sans-serif">Flap1_coll</text>
<text transform="translate(1070.7 582.7) scale(1 1.05)" font-size="19.2" font-family="Liberation Sans, Arial, sans-serif">Tower_FA1</text>
<text transform="translate(1071.7 603.6) scale(1 1.05)" font-size="19.2" font-family="Liberation Sans, Arial, sans-serif">Tower_SS1</text>
<text transform="translate(1075.3 640.4) scale(1 1.05)" font-size="19.2" font-family="Liberation Sans, Arial, sans-serif">Flap1_reg</text>
</svg></body></html>
